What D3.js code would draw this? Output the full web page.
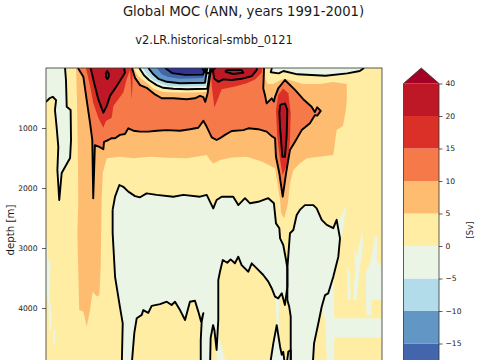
<!DOCTYPE html>
<html>
<head>
<meta charset="utf-8">
<script src="https://cdn.jsdelivr.net/npm/d3@7"></script>
<style>
	html, body { margin: 0; padding: 0; background: #fff; overflow: hidden; }
	svg { display: block; }
	text { font-family: "DejaVu Sans", sans-serif; fill: #1a1a1a; }
</style>
</head>
<body>
<div id="plot"></div>
<script>

///////////////////////////////////////////////////////////////////////
// values: [ latitude, depth ]

let title_text = "Global MOC (ANN, years 1991-2001)";
let subtitle_text = "v2.LR.historical-smbb_0121";

let depth_ticks = [ 1000, 2000, 3000, 4000 ];

let levels = [ -20, -15, -10, -5, 0, 5, 10, 15, 20, 40 ];
let level_colors = [ "#313695", "#4265ac", "#6196c5", "#b2dcea", "#eaf5e5", "#feeda3", "#febc70", "#f67a49", "#da3027", "#be1826", "#a50026" ];

let band_5_outer = [ [-73.9,0],[-73.4,535],[-72.9,1535],[-72.7,2200],[-73.2,2750],[-72.2,4035],[-70,4060],[-68.2,4310],[-66.4,4035],[-65,3730],[-62.8,3810],[-61.4,3785],[-60.7,3310],[-60.2,2200],[-59.6,1755],[-57.5,1505],[-50.4,1480],[-43.2,1505],[-34.3,1480],[-25.3,1495],[-14.6,1505],[-3.9,1450],[-2.1,1535],[-0.4,1590],[3.2,1535],[9.5,1490],[17.5,1480],[25.6,1560],[32.7,1670],[35.4,2200],[35.9,2415],[37.5,2505],[39.3,2310],[39.8,2200],[40.7,1920],[42.5,1700],[46,1590],[49.7,1505],[63.9,1450],[65.7,1035],[69.1,965],[70.7,685],[71.2,515],[71.1,265],[63.7,235],[56.8,265],[47.7,265],[42.3,215],[38,180],[36.3,190],[31.6,265],[28.9,265],[27.6,200],[27,0] ];
let band_5_dip = [ [-2.1,0],[-2.8,190],[-3.6,400],[-11.1,410],[-20,410],[-27.2,400],[-32.5,345],[-36.1,245],[-40.7,135],[-43.2,0] ];

let contour_10_outer = [ [-72.9,0],[-70,145],[-68.2,535],[-66.4,920],[-65.2,1200],[-64.7,2170],[-63.8,1285],[-61.1,1320],[-59.3,1355],[-58.9,1230],[-56.6,1200],[-54.8,1170],[-53,1170],[-50.4,1115],[-47.7,1100],[-45.9,1005],[-43.2,1045],[-39.6,1060],[-35.2,1060],[-30.7,1045],[-25.3,1035],[-18.2,1045],[-12.9,1020],[-8.4,995],[-5.7,880],[-3.9,980],[-1.2,1155],[1.4,1200],[3.2,1170],[5.9,1115],[9.5,1050],[15.7,1035],[18.4,1005],[23.7,1020],[28.2,1060],[30.9,1135],[32.7,1170],[33.2,1480],[35,1755],[36.8,2145],[38.6,1755],[40.7,1365],[43.4,1230],[47,1035],[51.4,920],[54.1,785],[55.3,795],[57.2,715],[55.3,655],[54,735],[52.3,645],[47.8,520],[43.4,365],[38,200],[34.4,340],[32.7,480],[32.1,560],[30.9,505],[28.2,590],[27.3,450],[26.4,340],[26.8,0] ];
let contour_10_dip = [ [-1.6,0],[-2.4,200],[-3.5,435],[-4.7,565],[-5.7,485],[-7.5,465],[-10.2,505],[-14.6,520],[-21.8,505],[-28,505],[-31.6,440],[-36.1,330],[-39.6,285],[-42.3,165],[-43.9,0] ];

let band_15_left = [ [-68.6,0],[-66.4,300],[-64.7,580],[-62,830],[-59.3,995],[-57.9,885],[-54.8,830],[-53.9,635],[-48.6,410],[-46.8,190],[-45,35],[-44.5,285],[-44.1,535],[-43.7,285],[-43.5,0] ];
let band_15_mid = [ [-1.6,0],[-1.2,300],[0.2,660],[2,520],[4.1,355],[11.3,310],[17.5,255],[22,190],[25.6,80],[25.9,0] ];
let band_15_column = [ [37,340],[39.8,420],[41.1,755],[40.7,1200],[39.3,1590],[36.8,1785],[35.4,1535],[33.9,1145],[33.2,700],[34.4,450] ];

let contour_20_left = [ [-66.1,0],[-63.8,300],[-62,520],[-59.3,745],[-57.5,635],[-55.7,465],[-52.1,300],[-47.7,80],[-48.1,0] ];
let contour_20_mid = [ [-0.4,0],[-0.4,80],[0.2,180],[2.3,230],[5,190],[9.5,200],[14.8,180],[20.2,135],[22.9,35],[23,0] ];
let contour_20_column = [ [35.4,615],[38,590],[39.3,700],[38.9,1145],[38,1480],[36.6,1480],[35.4,980],[35,755],[35.4,615] ];
let contour_40_spot = [ [-57.9,85],[-57.2,50],[-56.4,90],[-56.4,150],[-57.2,185],[-57.9,150],[-57.9,85] ];
let contour_40_lens = [ [5.9,60],[10.3,100],[15.7,80],[14.8,35],[10.3,35],[6.8,35],[5.9,60] ];

let contour_0_dip = [ [-40,0],[-37.5,120],[-34.7,205],[-30.7,285],[-27.2,330],[-21.8,345],[-14.6,355],[-3.6,345],[-2.1,35],[-1.9,0] ];
let band_m5_dip = [ [-38.2,0],[-35.7,120],[-32.5,205],[-28.9,260],[-24.5,300],[-16.4,310],[-4.3,300],[-3.6,190],[-2.8,0] ];
let contour_m10_dip = [ [-35.2,0],[-32.5,105],[-29.8,180],[-25.3,230],[-18.2,255],[-4.8,245],[-4.3,135],[-3.6,0] ];
let band_m15_dip = [ [-30.7,0],[-28,105],[-24.5,150],[-18.2,180],[-5.9,165],[-4.8,65],[-4.3,0] ];
let contour_m20_dip = [ [-26.2,0],[-22.5,85],[-15.5,115],[-5.9,110],[-4.8,35],[-4.6,0] ];
let contour_throat = [ [-6.5,0],[-5,60],[-3.5,90],[-2,75],[-0.5,30],[0.8,0] ];

let contour_0_south = [ [-79.8,0],[-79.3,200],[-78.9,645],[-76.8,700],[-76.6,1200],[-77.1,1500],[-79.8,1650],[-81.6,1750],[-82.9,2200],[-83.9,1700],[-83.4,1315],[-84.3,985],[-85.2,700],[-84.6,535],[-86.4,480],[-87.9,500],[-90,565],[-90,0] ];
let contour_0_deep = [ [-54.3,2365],[-53,2145],[-50.7,1950],[-48.6,1980],[-45.9,2060],[-42.3,2135],[-39.6,2155],[-36.1,2090],[-30.7,2115],[-21.8,2145],[-16.4,2115],[-7.5,2145],[-3.9,2115],[-2.1,2230],[-0.4,2340],[1.4,2200],[4.1,2145],[10.3,2145],[13,2285],[16.6,2170],[19.3,2255],[23.7,2230],[29.1,2170],[32.1,2255],[33.2,2590],[35,2670],[35.4,2840],[37.1,2950],[38.6,3200],[39.3,3340],[39.3,3645],[38,3950],[36.3,3755],[34.4,3840],[32.7,3810],[30.9,3670],[29.1,3560],[26.4,3450],[22.9,3340],[20.2,3255],[18.4,3395],[14.8,3285],[13,3145],[11.2,3255],[8.9,3190],[7.1,3245],[4.7,3200],[3.2,3395],[2.3,3535],[2.3,4200],[1.4,4700],[0.2,4365],[-0.5,4285],[-1.8,4500],[-2.1,4950],[-7.1,4950],[-7.1,4530],[-6.6,4230],[-5.7,4085],[-6.9,4230],[-8.4,4060],[-10.2,3880],[-12.9,3895],[-15.5,4200],[-18.2,4035],[-20.9,3895],[-22.7,3950],[-25.3,3895],[-28.9,3935],[-33.4,3965],[-35.2,4080],[-37.9,4035],[-38.7,4115],[-41.4,4170],[-42.7,4420],[-44.1,4950],[-49.4,4950],[-48.9,4255],[-50.4,3980],[-53,3480],[-54.3,2750],[-54.3,2365] ];
let contour_0_east = [ [52.9,4950],[53.6,4590],[55.9,4255],[57.7,3980],[59.5,3785],[61.2,3755],[63.9,3480],[66.6,3145],[67.5,2840],[65.7,2530],[63.9,2670],[60.4,2615],[57.7,2530],[55,2340],[53.2,2285],[48.7,2285],[46,2365],[44.3,2450],[42.5,2700],[40.7,2755],[39.3,3340],[39.3,3865],[40.3,3980],[41.1,4145],[41.1,4950] ];
let contour_0_top = [ [31,0],[30.4,70],[34.7,90],[37.2,50],[44.7,105],[59.7,130],[71.4,90],[78.1,50],[80.4,0] ];
let contour_0_notch = [ [30,4950],[31.8,4585],[33.6,4285],[35.4,4645],[36.3,4780],[37.1,4730],[38,4950] ];
let contour_0_clump = [ [38.9,4950],[39.8,4730],[41.1,4700],[41.1,4950] ];

// patches a little below zero with no contour around them
let patch_strip = [ [32.7,3810],[34.9,3830],[34.7,4300],[35.4,4645],[36.3,4780],[37.1,4730],[38,4950],[30,4950],[31.8,4585],[33.6,4285] ];
let patch_wedge = [ [1.4,4700],[2.5,4450],[5,4750],[6.8,4950],[1.4,4950] ];
let patch_east = [ [64.3,3480],[64.4,4170],[90,4170],[90,4490],[64.4,4490],[64.4,4950],[60.5,4950],[60,4535],[59.5,4200],[57.3,3970] ];
let patch_sliver = [ [70.5,2285],[69.8,2560],[68.3,2830],[67.5,2840],[66.5,2530],[68.5,2450] ];
let patch_spike_1 = [ [71.4,3335],[72.9,3365],[73.2,3865],[71.5,3865] ];
let patch_spike_2 = [ [74.5,3865],[75.5,3400],[75.2,2980],[76.4,3165],[79.4,2700],[79.8,2980],[78.2,3315],[76.4,3865] ];
let patch_spike_3 = [ [81.3,3395],[83.6,3255],[86.2,2810],[87.5,2785],[87.2,3200],[89.8,3310],[90,3865],[84.5,3865],[84.5,4115],[81.8,4115],[81.3,3810] ];
let patch_west_1 = [ [-90,2865],[-89.2,2950],[-88.7,3235],[-87.6,3200],[-87.9,3865],[-86.8,4115],[-87.3,4365],[-88.1,4365],[-88.9,3865],[-90,3785] ];
let patch_west_2 = [ [-86,4365],[-85.2,4365],[-85.2,4615],[-86,4615] ];

///////////////////////////////////////////////////////////////////////

function draw_chart()	{

	let width = 480, height = 360;

	let svg = d3.select( "#plot" )
		.append( "svg" )
			.attr( "width", width )
			.attr( "height", height );

	let x = d3.scaleLinear().domain( [ -90, 90 ] ).range( [ 46, 382 ] );
	let y = d3.scaleLinear().domain( [ 0, 5000 ] ).range( [ 68, 368 ] );

	let color = d3.scaleThreshold().domain( levels ).range( level_colors );

	let line = d3.line().x( d => x( d[ 0 ] ) ).y( d => y( d[ 1 ] ) );

	svg.append( "clipPath" )
		.attr( "id", "plot_clip" )
		.append( "rect" )
			.attr( "x", 46 )
			.attr( "y", 68 )
			.attr( "width", 336 )
			.attr( "height", 300 );

	let plot = svg.append( "g" ).attr( "clip-path", "url(#plot_clip)" );

	plot.append( "rect" )
		.attr( "x", 46 )
		.attr( "y", 68 )
		.attr( "width", 336 )
		.attr( "height", 300 )
		.attr( "fill", color( 0 ) );

	// filled bands, lowest first; the number is a value inside the band
	let fills = [
		[ band_5_outer.concat( band_5_dip ), 5 ],
		[ contour_10_outer.concat( contour_10_dip ), 10 ],
		[ band_15_left, 15 ],
		[ band_15_mid, 15 ],
		[ band_15_column, 15 ],
		[ contour_20_left, 20 ],
		[ contour_20_mid, 20 ],
		[ contour_20_column, 20 ],
		[ contour_0_dip, -1 ],
		[ band_m5_dip, -6 ],
		[ contour_m10_dip, -11 ],
		[ band_m15_dip, -16 ],
		[ contour_m20_dip, -21 ],
		[ contour_0_south, -1 ],
		[ contour_0_deep, -1 ],
		[ contour_0_east, -1 ],
		[ contour_0_top, -1 ],
		[ patch_strip, -1 ],
		[ patch_wedge, -1 ],
		[ patch_east, -1 ],
		[ patch_sliver, -1 ],
		[ patch_spike_1, -1 ],
		[ patch_spike_2, -1 ],
		[ patch_spike_3, -1 ],
		[ patch_west_1, -1 ],
		[ patch_west_2, -1 ],
		[ contour_0_clump, -1 ]
	];

	plot.selectAll( "path.fill" )
		.data( fills )
		.join( "path" )
			.attr( "class", "fill" )
			.attr( "d", d => line( d[ 0 ] ) + "Z" )
			.attr( "fill", d => color( d[ 1 ] ) );

	let contours = [
		contour_10_outer, contour_10_dip,
		contour_20_left, contour_20_mid, contour_20_column,
		contour_40_spot, contour_40_lens,
		contour_0_dip, contour_m10_dip, contour_m20_dip, contour_throat,
		contour_0_south.slice( 0, -1 ), contour_0_deep, contour_0_east, contour_0_top,
		contour_0_notch, contour_0_clump
	];

	plot.selectAll( "path.contour" )
		.data( contours )
		.join( "path" )
			.attr( "class", "contour" )
			.attr( "d", d => line( d ) )
			.attr( "fill", "none" )
			.attr( "stroke", "#000" )
			.attr( "stroke-width", 1.9 )
			.attr( "stroke-linejoin", "round" );

	// frame
	svg.append( "rect" )
		.attr( "x", 46 )
		.attr( "y", 68 )
		.attr( "width", 336 )
		.attr( "height", 300 )
		.attr( "fill", "none" )
		.attr( "stroke", "#333" )
		.attr( "stroke-width", 0.8 );

	// depth axis
	let y_axis = svg.append( "g" )
		.attr( "transform", "translate(46,0)" )
		.call( d3.axisLeft( y ).tickValues( depth_ticks ).tickFormat( d3.format( "d" ) ).tickSize( 4 ).tickPadding( 4.5 ) );
	y_axis.select( ".domain" ).remove();
	y_axis.selectAll( "line" ).attr( "stroke", "#333" ).attr( "stroke-width", 0.8 );
	y_axis.selectAll( "text" ).attr( "font-size", 7.6 ).attr( "font-family", "DejaVu Sans" );

	svg.append( "text" )
		.attr( "transform", "translate(14,230) rotate(-90)" )
		.attr( "text-anchor", "middle" )
		.attr( "font-size", 10.2 )
		.text( "depth [m]" );

	svg.append( "text" )
		.attr( "x", 243.5 )
		.attr( "y", 16 )
		.attr( "text-anchor", "middle" )
		.attr( "font-size", 13.2 )
		.text( title_text );

	svg.append( "text" )
		.attr( "x", 214 )
		.attr( "y", 44 )
		.attr( "text-anchor", "middle" )
		.attr( "font-size", 11.4 )
		.text( subtitle_text );

	draw_colorbar( svg, color );
}

///////////////////////////////////////////////////////////////////////

function draw_colorbar( svg, color )	{

	let cb_left = 403.5, cb_right = 439;

	// ticks sit the same distance apart whatever their value
	let cb = d3.scaleLinear()
		.domain( levels )
		.range( levels.map( ( d, i ) => 376 - i * 32.5 ) );

	let bands = d3.pairs( levels );

	svg.selectAll( "rect.band" )
		.data( bands )
		.join( "rect" )
			.attr( "class", "band" )
			.attr( "x", cb_left )
			.attr( "y", d => cb( d[ 1 ] ) )
			.attr( "width", cb_right - cb_left )
			.attr( "height", d => cb( d[ 0 ] ) - cb( d[ 1 ] ) )
			.attr( "fill", d => color( d[ 0 ] ) );

	let top = cb( 40 );
	let arrow = [ [ cb_left, top ], [ ( cb_left + cb_right ) / 2, top - 15.5 ], [ cb_right, top ] ];

	svg.append( "path" )
		.attr( "d", d3.line()( arrow ) + "Z" )
		.attr( "fill", color( 41 ) );

	svg.append( "path" )
		.attr( "d", d3.line()( [ [ cb_left, 372 ], [ cb_left, top ], arrow[ 1 ], [ cb_right, top ], [ cb_right, 372 ] ] ) )
		.attr( "fill", "none" )
		.attr( "stroke", "#333" )
		.attr( "stroke-width", 0.8 );

	let cb_axis = svg.append( "g" )
		.attr( "transform", "translate(" + cb_right + ",0)" )
		.call( d3.axisRight( cb ).tickValues( levels.slice( 1 ) ).tickFormat( d => d3.format( "d" )( d ).replace( "-", "\u2212" ) ).tickSize( 3.5 ).tickPadding( 3 ) );
	cb_axis.select( ".domain" ).remove();
	cb_axis.selectAll( "line" ).attr( "stroke", "#333" ).attr( "stroke-width", 0.8 );
	cb_axis.selectAll( "text" ).attr( "font-size", 7.6 ).attr( "font-family", "DejaVu Sans" );

	svg.append( "text" )
		.attr( "transform", "translate(473,230) rotate(-90)" )
		.attr( "text-anchor", "middle" )
		.attr( "font-size", 8.4 )
		.text( "[Sv]" );
}

draw_chart();

</script>
</body>
</html>
